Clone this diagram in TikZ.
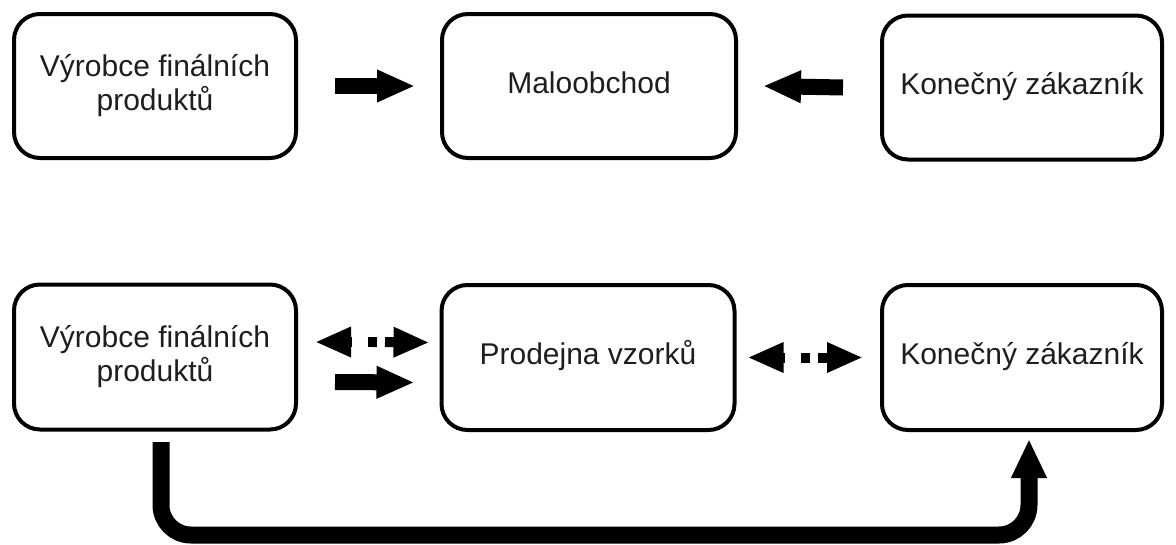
\documentclass[tikz,border=0pt]{standalone}
\usepackage{fontspec}
\setmainfont{Liberation Sans}
\usetikzlibrary{arrows.meta}
\definecolor{ink}{HTML}{1E1E1E}
\begin{document}
\begin{tikzpicture}[x=1pt,y=-1pt,
  box/.style={draw=black, line width=4pt, rounded corners=26pt, align=center,
    text=ink, font=\fontsize{30}{34}\selectfont, inner sep=0pt},
  oneline/.style={text height=22pt, text depth=8pt},
  toprow/.style={minimum height=144pt},
  botrow/.style={minimum height=145pt},
  solidarrow/.style={line width=16pt, -{Triangle[length=38pt,width=30pt]}},
  % halves of a broken double arrow, each drawn from its middle outwards
  halfdash/.style={line width=10pt, -{Triangle[length=36pt,width=28pt]}},
  halfleft/.style={halfdash, dash pattern=on 4.5pt off 16pt on 300pt},
  halfright/.style={halfdash, dash pattern=on 4.5pt off 8pt on 300pt},
  uarrow/.style={line width=17pt, rounded corners=30pt,
    -{Triangle[length=39pt,width=33pt]}}]
\useasboundingbox (0,0) rectangle (1176,544);

% upper chain: producer -> retail <- customer
\node[box, toprow, minimum width=282pt] (p1) at (155,86) {Výrobce finálních\\produktů};
\node[box, toprow, oneline, minimum width=294pt] (m1) at (589,86) {Maloobchod};
\node[box, toprow, oneline, minimum width=280pt] (k1) at (1022,87.5) {Konečný zákazník};

\draw[solidarrow] ([xshift=37pt]p1.east) -- ([xshift=-25pt]m1.west);
\draw[solidarrow] ([xshift=-37pt]k1.west) -- ([xshift=25pt]m1.east);

% lower chain: producer <-> sample shop <-> customer, plus direct delivery
\node[box, botrow, minimum width=282pt] (p2) at (155,357) {Výrobce finálních\\produktů};
\node[box, botrow, oneline, minimum width=293pt] (s2) at (588,357.5) {Prodejna vzorků};
\node[box, botrow, oneline, minimum width=280pt] (k2) at (1022,357.5) {Konečný zákazník};

\coordinate (d1) at ([xshift=74.5pt,yshift=15pt]p2.east);
\draw[halfleft] (d1) -- ([xshift=17pt,yshift=15pt]p2.east);
\draw[halfright] (d1) -- ([xshift=-10pt,yshift=15pt]s2.west);

\draw[solidarrow] ([xshift=37pt,yshift=-25pt]p2.east) -- ([xshift=-25pt,yshift=-25pt]s2.west);

\coordinate (d2) at ([xshift=69pt]s2.east);
\draw[halfleft] (d2) -- ([xshift=11pt]s2.east);
\draw[halfright] (d2) -- ([xshift=-17pt]k2.west);

\coordinate (ub) at (600,535);
\draw[uarrow] ([xshift=6pt,yshift=-10.5pt]p2.south) |- (ub) -| ([xshift=7pt,yshift=-7pt]k2.south);
\end{tikzpicture}
\end{document}
